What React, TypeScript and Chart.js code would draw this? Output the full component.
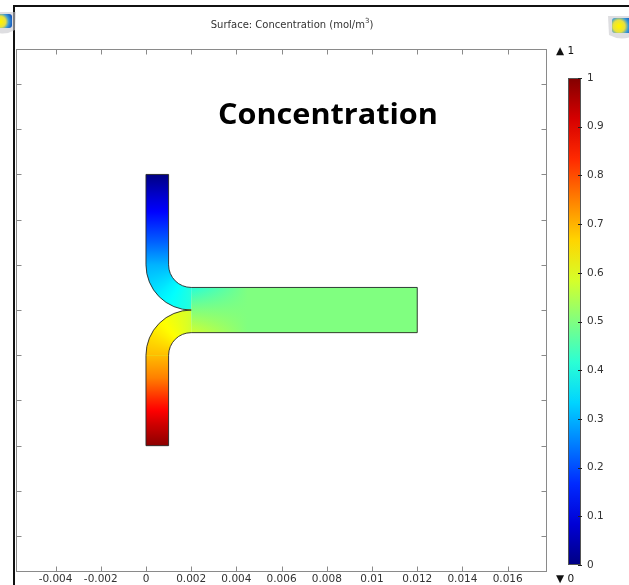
import React, { useEffect, useRef } from "react";
import { Chart, registerables } from "chart.js";

Chart.register(...registerables);

// ---------- axes ----------
const xRange = [-0.00575, 0.01774];
const yRange = [-0.01159, 0.01155];
const xTickVals = [-0.004, -0.002, 0, 0.002, 0.004, 0.006, 0.008, 0.01, 0.012, 0.014, 0.016];
const xTickLabels = ["-0.004", "-0.002", "0", "0.002", "0.004", "0.006", "0.008", "0.01", "0.012", "0.014", "0.016"];
const yTickVals = [-0.01, -0.008, -0.006, -0.004, -0.002, 0, 0.002, 0.004, 0.006, 0.008, 0.01];

// ---------- geometry (m) ----------
const inletX = [0, 0.001];
const topInletY = [0.002, 0.006];
const bottomInletY = [-0.006, -0.002];
const outletX = [0.002, 0.012];
const outletY = [-0.001, 0.001];
const bendCenterX = 0.002;
const bendCenterY = [0.002, -0.002]; // top bend, bottom bend
const bendRadii = [0.001, 0.002]; // inner, outer

// ---------- concentration read along the channel (mol/m^3) ----------
const topInletStationY = [0.006, 0.005, 0.004, 0.003, 0.002];
const topInletConc = [0.0, 0.08, 0.15, 0.22, 0.3];
const bottomInletStationY = [-0.006, -0.005, -0.004, -0.003, -0.002];
const bottomInletConc = [0.99, 0.92, 0.84, 0.75, 0.69];
const bendStationDeg = [0, 45, 90];
const topBendConc = [0.3, 0.36, 0.41];
const bottomBendConc = [0.69, 0.63, 0.58];
const outletEntranceConc = [0.41, 0.5, 0.58]; // top wall, centre, bottom wall at x=0.002
const outletMixX = [0.002, 0.0045];
const outletConc = 0.5;

// ---------- colour scale ----------
const cbTicks = [0, 0.1, 0.2, 0.3, 0.4, 0.5, 0.6, 0.7, 0.8, 0.9, 1];
const cbTickLabels = ["0", "0.1", "0.2", "0.3", "0.4", "0.5", "0.6", "0.7", "0.8", "0.9", "1"];
const cmapPos = [0, 0.125, 0.375, 0.625, 0.875, 1];
const cmapRGB = [
  [0, 0, 130],
  [0, 0, 255],
  [0, 255, 255],
  [255, 255, 0],
  [255, 0, 0],
  [130, 0, 0],
];

const titleText = "Surface: Concentration (mol/m";
const titleSup = "3";
const annotationText = "Concentration";
const annotationPos = [0.00805, 0.00823];

function cmap(c: number, a = 1): string {
  const v = Math.max(0, Math.min(1, c));
  let i = 0;
  while (i < cmapPos.length - 2 && v > cmapPos[i + 1]) i++;
  const t = (v - cmapPos[i]) / (cmapPos[i + 1] - cmapPos[i]);
  const p = cmapRGB[i], q = cmapRGB[i + 1];
  const r = Math.round(p[0] + (q[0] - p[0]) * t);
  const g = Math.round(p[1] + (q[1] - p[1]) * t);
  const b = Math.round(p[2] + (q[2] - p[2]) * t);
  return `rgba(${r},${g},${b},${a})`;
}

// colour stops for stations (offsets in [0,1]) with fine sub-steps so the colormap is honoured
function addStops(grad: CanvasGradient, offsets: number[], concs: number[]) {
  const n = 12;
  for (let i = 0; i < offsets.length - 1; i++) {
    for (let j = 0; j <= n; j++) {
      const t = j / n;
      const o = offsets[i] + (offsets[i + 1] - offsets[i]) * t;
      const c = concs[i] + (concs[i + 1] - concs[i]) * t;
      grad.addColorStop(Math.max(0, Math.min(1, o)), cmap(c));
    }
  }
}

const fieldPlugin = {
  id: "field",
  beforeDatasetsDraw(chart: any) {
    const { ctx } = chart;
    const xs = chart.scales.x, ys = chart.scales.y;
    const X = (v: number) => xs.getPixelForValue(v);
    const Y = (v: number) => ys.getPixelForValue(v);
    const r1 = X(bendRadii[0]) - X(0);
    const r2 = X(bendRadii[1]) - X(0);
    const cx = X(bendCenterX);
    const cyT = Y(bendCenterY[0]);
    const cyB = Y(bendCenterY[1]);

    const path = new Path2D();
    path.moveTo(X(inletX[0]), Y(topInletY[1]));
    path.lineTo(X(inletX[1]), Y(topInletY[1]));
    path.lineTo(X(inletX[1]), Y(topInletY[0]));
    path.arc(cx, cyT, r1, Math.PI, Math.PI / 2, true);
    path.lineTo(X(outletX[1]), Y(outletY[1]));
    path.lineTo(X(outletX[1]), Y(outletY[0]));
    path.lineTo(X(outletX[0]), Y(outletY[0]));
    path.arc(cx, cyB, r1, -Math.PI / 2, -Math.PI, true);
    path.lineTo(X(inletX[1]), Y(bottomInletY[0]));
    path.lineTo(X(inletX[0]), Y(bottomInletY[0]));
    path.lineTo(X(inletX[0]), Y(bottomInletY[1]));
    path.arc(cx, cyB, r2, Math.PI, 1.5 * Math.PI, false);
    path.arc(cx, cyT, r2, Math.PI / 2, Math.PI, false);
    path.closePath();

    ctx.save();
    ctx.clip(path);

    // top inlet
    {
      const y0 = Y(topInletStationY[0]), y1 = Y(topInletStationY[topInletStationY.length - 1]);
      const g = ctx.createLinearGradient(0, y0, 0, y1);
      addStops(g, topInletStationY.map((v) => (Y(v) - y0) / (y1 - y0)), topInletConc);
      ctx.fillStyle = g;
      ctx.fillRect(X(inletX[0]) - 2, y0 - 2, X(inletX[1]) - X(inletX[0]) + 4, y1 - y0 + 3);
    }
    // bottom inlet
    {
      const y0 = Y(bottomInletStationY[0]), y1 = Y(bottomInletStationY[bottomInletStationY.length - 1]);
      const g = ctx.createLinearGradient(0, y0, 0, y1);
      addStops(g, bottomInletStationY.map((v) => (Y(v) - y0) / (y1 - y0)), bottomInletConc);
      ctx.fillStyle = g;
      ctx.fillRect(X(inletX[0]) - 2, y1 - 1, X(inletX[1]) - X(inletX[0]) + 4, y0 - y1 + 3);
    }
    // top bend (conic around its centre; down = junction end, left = inlet end)
    {
      const g = ctx.createConicGradient(Math.PI / 2, cx, cyT);
      addStops(g, bendStationDeg.map((d) => (90 - d) / 360).reverse(), topBendConc.slice().reverse());
      ctx.fillStyle = g;
      ctx.fillRect(X(0) - 2, cyT, cx - X(0) + 2, Y(0) - cyT + 1);
    }
    // bottom bend (left = inlet end, up = junction end)
    {
      const g = ctx.createConicGradient(Math.PI, cx, cyB);
      addStops(g, bendStationDeg.map((d) => d / 360), bottomBendConc);
      ctx.fillStyle = g;
      ctx.fillRect(X(0) - 2, Y(0) - 1, cx - X(0) + 2, cyB - Y(0) + 1);
    }
    // outlet
    {
      const yt = Y(outletY[1]), yb = Y(outletY[0]);
      const g = ctx.createLinearGradient(0, yt, 0, yb);
      addStops(g, [0, 0.5, 1], outletEntranceConc);
      ctx.fillStyle = g;
      ctx.fillRect(cx, yt - 1, X(outletX[1]) - cx + 2, yb - yt + 2);
      const h = ctx.createLinearGradient(X(outletMixX[0]), 0, X(outletMixX[1]), 0);
      h.addColorStop(0, cmap(outletConc, 0));
      h.addColorStop(1, cmap(outletConc, 1));
      ctx.fillStyle = h;
      ctx.fillRect(cx, yt - 1, X(outletX[1]) - cx + 2, yb - yt + 2);
    }
    ctx.restore();

    ctx.save();
    ctx.strokeStyle = "rgba(40,40,40,0.9)";
    ctx.lineWidth = 1;
    ctx.stroke(path);
    ctx.restore();
  },
};

function drawIcon(ctx: CanvasRenderingContext2D, x: number, y: number, w: number, h: number) {
  ctx.save();
  ctx.fillStyle = "rgba(200,200,205,0.6)";
  ctx.beginPath();
  ctx.moveTo(x - 4, y - 2);
  ctx.lineTo(x + w + 4, y - 2);
  ctx.lineTo(x + w + 3, y + h + 2);
  ctx.quadraticCurveTo(x + w / 2, y + h + 9, x - 3, y + h + 2);
  ctx.closePath();
  ctx.fill();
  const g = ctx.createRadialGradient(x + w * 0.35, y + h * 0.55, 1, x + w * 0.35, y + h * 0.55, w * 0.75);
  g.addColorStop(0, "#fff200");
  g.addColorStop(0.35, "#e8e040");
  g.addColorStop(0.6, "#3a9ad8");
  g.addColorStop(1, "#0a3fb0");
  ctx.fillStyle = g;
  ctx.beginPath();
  ctx.roundRect(x, y, w, h, 3);
  ctx.fill();
  ctx.restore();
}

const decorPlugin = {
  id: "decor",
  afterDraw(chart: any) {
    const { ctx, chartArea: a } = chart;
    const xs = chart.scales.x, ys = chart.scales.y;
    ctx.save();

    // window border lines
    ctx.fillStyle = "#111";
    ctx.fillRect(13, 5, 2, 585);
    ctx.fillRect(13, 5, 629, 2);
    drawIcon(ctx, -6, 14, 18, 14);
    drawIcon(ctx, 612, 18, 20, 15);

    // frame + inward ticks
    ctx.strokeStyle = "#8a8a8a";
    ctx.lineWidth = 1;
    const L = Math.round(a.left) + 0.5, R = Math.round(a.right) - 0.5;
    const T = Math.round(a.top) + 0.5, B = Math.round(a.bottom) - 0.5;
    ctx.strokeRect(L, T, R - L, B - T);
    ctx.beginPath();
    xTickVals.forEach((v) => {
      const px = Math.round(xs.getPixelForValue(v)) + 0.5;
      ctx.moveTo(px, T); ctx.lineTo(px, T + 5);
      ctx.moveTo(px, B); ctx.lineTo(px, B - 5);
    });
    yTickVals.forEach((v) => {
      const py = Math.round(ys.getPixelForValue(v)) + 0.5;
      ctx.moveTo(L, py); ctx.lineTo(L + 5, py);
      ctx.moveTo(R, py); ctx.lineTo(R - 5, py);
    });
    ctx.stroke();

    // title
    ctx.fillStyle = "#333";
    ctx.font = "10px 'DejaVu Sans'";
    ctx.textBaseline = "alphabetic";
    ctx.textAlign = "left";
    const w1 = ctx.measureText(titleText).width;
    ctx.font = "7px 'DejaVu Sans'";
    const w2 = ctx.measureText(titleSup).width;
    ctx.font = "10px 'DejaVu Sans'";
    const w3 = ctx.measureText(")").width;
    const tx = 292 - (w1 + w2 + w3) / 2;
    ctx.fillText(titleText, tx, 27.5);
    ctx.font = "7px 'DejaVu Sans'";
    ctx.fillText(titleSup, tx + w1, 23);
    ctx.font = "10px 'DejaVu Sans'";
    ctx.fillText(")", tx + w1 + w2, 27.5);

    // annotation (stretched to the reference width)
    ctx.fillStyle = "#000";
    ctx.font = "bold 28px 'Open Sans'";
    ctx.textAlign = "center";
    const aw = ctx.measureText(annotationText).width;
    const sx = 220 / aw;
    const ax = xs.getPixelForValue(annotationPos[0]);
    const ay = ys.getPixelForValue(annotationPos[1]);
    ctx.save();
    ctx.translate(ax, ay);
    ctx.scale(sx, 1);
    ctx.fillText(annotationText, 0, 0);
    ctx.restore();

    // colour bar
    const cbL = 568, cbR = 581, cbT = 78, cbB = 565;
    const cg = ctx.createLinearGradient(0, cbB, 0, cbT);
    addStops(cg, [0, 1], [0, 1]);
    ctx.fillStyle = cg;
    ctx.fillRect(cbL, cbT, cbR - cbL, cbB - cbT);
    ctx.strokeStyle = "#555";
    ctx.strokeRect(cbL + 0.5, cbT + 0.5, cbR - cbL - 1, cbB - cbT - 1);
    ctx.font = "10.5px 'DejaVu Sans'";
    ctx.textAlign = "left";
    ctx.textBaseline = "middle";
    ctx.beginPath();
    cbTicks.forEach((v, i) => {
      const py = cbB - v * (cbB - cbT);
      const pr = Math.round(py) + 0.5;
      ctx.moveTo(cbR - 3, pr); ctx.lineTo(cbR + 1, pr);
      ctx.fillStyle = "#333";
      ctx.fillText(cbTickLabels[i], 587, py);
    });
    ctx.strokeStyle = "#222";
    ctx.stroke();
    ctx.fillStyle = "#111";
    ctx.fillText("\u25B2 1", 556, 51);
    ctx.fillText("\u25BC 0", 556, 579);

    ctx.restore();
  },
};

export default function App() {
  const ref = useRef<HTMLCanvasElement>(null);
  useEffect(() => {
    if (!ref.current) return;
    const chart = new Chart(ref.current, {
      type: "scatter",
      data: { datasets: [] },
      options: {
        animation: false,
        responsive: false,
        devicePixelRatio: 1,
        layout: { padding: { left: 16, top: 49, right: 82, bottom: 0 } },
        plugins: { legend: { display: false }, tooltip: { enabled: false }, title: { display: false } },
        scales: {
          x: {
            type: "linear",
            min: xRange[0],
            max: xRange[1],
            afterBuildTicks: (s: any) => {
              s.ticks = xTickVals.map((v) => ({ value: v }));
            },
            afterFit: (s: any) => {
              s.height = 13;
            },
            ticks: {
              callback: (_v: any, i: number) => xTickLabels[i],
              font: { family: "DejaVu Sans", size: 10.5 },
              color: "#333",
              padding: 1,
              maxRotation: 0,
              autoSkip: false,
            },
            grid: { display: false, drawTicks: false },
            border: { display: false },
          },
          y: { type: "linear", display: false, min: yRange[0], max: yRange[1] },
        },
      },
      plugins: [fieldPlugin, decorPlugin],
    } as any);
    return () => chart.destroy();
  }, []);
  return (
    <div style={{ position: "fixed", left: 0, top: 0, width: 629, height: 585, background: "#fff" }}>
      <canvas ref={ref} width={629} height={585} style={{ display: "block" }} />
    </div>
  );
}
